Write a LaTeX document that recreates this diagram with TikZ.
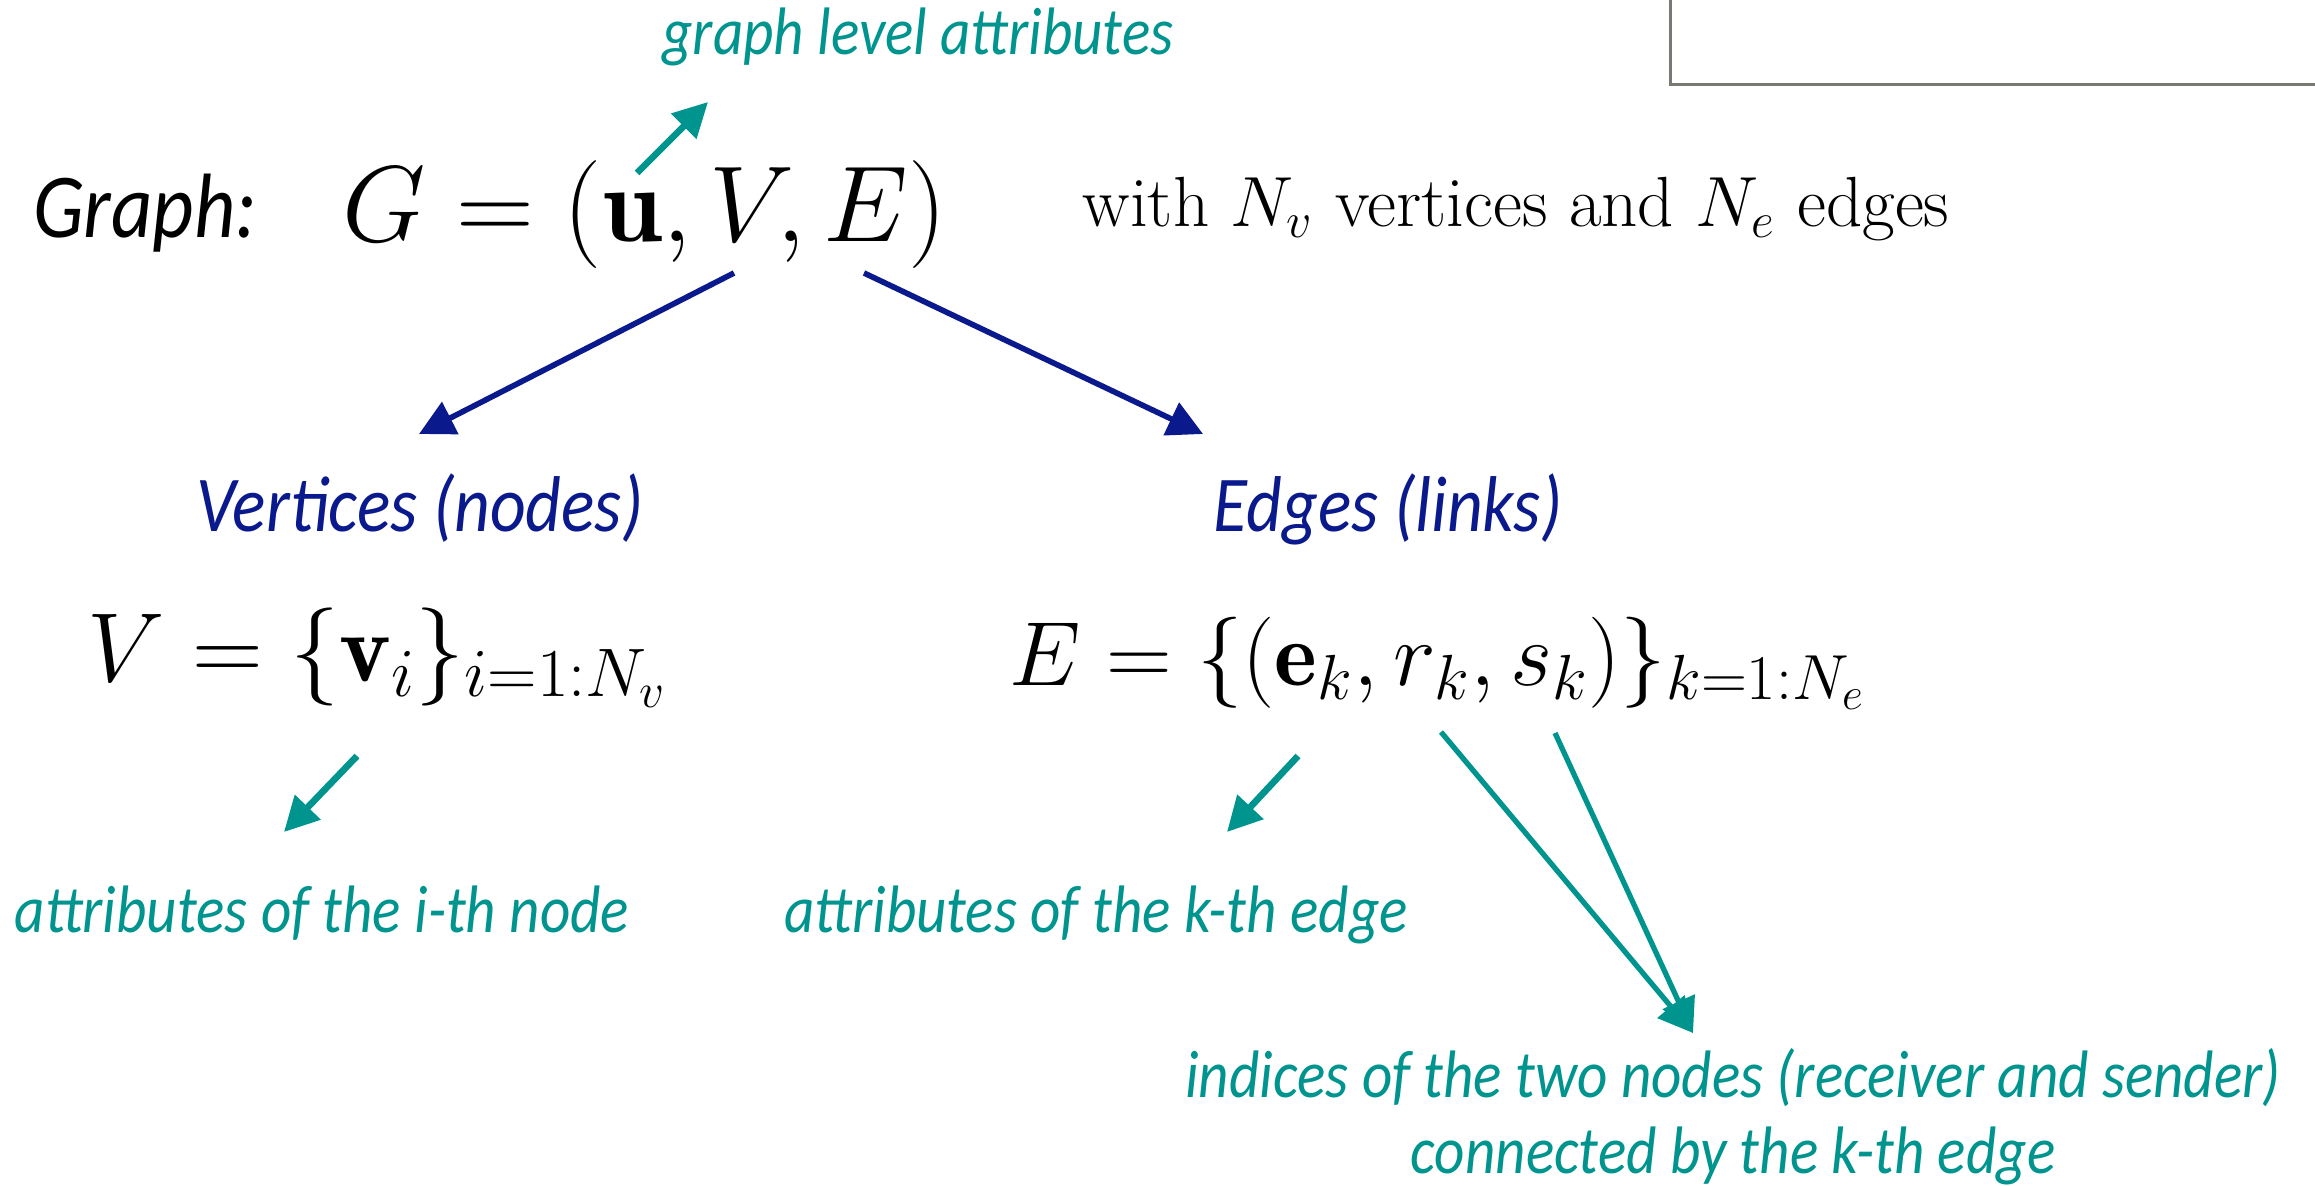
\RequirePackage{fix-cm}
\documentclass[tikz,border=0pt]{standalone}
\usepackage{fontspec}
\newfontfamily\labelfont[FakeStretch=0.88]{Carlito}
\usetikzlibrary{arrows.meta, positioning, calc}
\definecolor{AccentNavy}{HTML}{0A1A8C}
\definecolor{AccentTeal}{HTML}{00948F}
\definecolor{FrameGray}{HTML}{7A7872}
\tikzset{
  mbox/.style={inner sep=0pt, anchor=base, text=black},
  hbox/.style={inner sep=0pt, anchor=base, text=black,
    font=\labelfont\itshape\fontsize{26}{31}\selectfont},
  nbox/.style={inner sep=0pt, anchor=base, text=AccentNavy,
    font=\labelfont\itshape\fontsize{22.5}{27}\selectfont},
  tbox/.style={inner sep=0pt, anchor=base, text=AccentTeal,
    font=\labelfont\itshape\fontsize{19.1}{23}\selectfont},
  flow/.style={-{Triangle[length=10pt, width=10pt]}, line width=1.6pt, draw=AccentNavy},
  flowt/.style={-{Triangle[length=9.8pt, width=9.8pt]}, line width=1.9pt, draw=AccentTeal},
  flowq/.style={-{Triangle[length=9.8pt, width=9.8pt]}, line width=1.5pt, draw=AccentTeal},
}
\begin{document}
\begin{tikzpicture}[x=0.01cm, y=-0.01cm]
  \useasboundingbox (0,0) rectangle (2315,1186);
  % frame of the neighbouring box, cut by the page
  \draw[FrameGray, line width=0.85pt] (1670,0) -- (1670,85) -- (2315,85);

  % graph definition
  \node[hbox] (gname) at (145,238) {Graph:};
  \node[mbox, font=\fontsize{30.7}{37}\selectfont] (gdef) at (645,242) {$G = (\mathbf{u}, V, E)$};
  \node[mbox, font=\fontsize{20.2}{24}\selectfont] (gsize) at (1516,227) {with $N_v$ vertices and $N_e$ edges};
  \node[tbox] (glevel) at (918,55) {graph level attributes};

  % vertices and edges
  \node[nbox] (vhead) at (420,532) {Vertices (nodes)};
  \node[nbox] (ehead) at (1388,532) {Edges (links)};
  \node[mbox, font=\fontsize{27.9}{33}\selectfont] (vset) at (378,682) {$V = \{\mathbf{v}_i\}_{i=1:N_v}$};
  \node[mbox, font=\fontsize{25.9}{31}\selectfont] (eset) at (1438,686) {$E = \{(\mathbf{e}_k, r_k, s_k)\}_{k=1:N_e}$};

  % attribute notes
  \node[tbox] (vattr) at (322,933) {attributes of the i-th node};
  \node[tbox] (eattr) at (1096,933) {attributes of the k-th edge};
  \node[tbox] (idx) at (1733,1097) {indices of the two nodes (receiver and sender)};
  \node[tbox] (idxb) at (1733,1173) {connected by the k-th edge};

  % arrow ends
  \coordinate (u-top) at (637,173);
  \coordinate (glevel-end) at (708,102);
  \coordinate (v-from) at (734,273);
  \coordinate (v-to) at (419,434);
  \coordinate (e-from) at (864,273);
  \coordinate (e-to) at (1203,434);
  \coordinate (vi-from) at (357,756);
  \coordinate (vi-to) at (284,832);
  \coordinate (ek-from) at (1298,756);
  \coordinate (ek-to) at (1227,832);
  \coordinate (rk-from) at (1441,732);
  \coordinate (sk-from) at (1555,733);
  \coordinate (idx-to) at (1693,1033);

  \draw[flowt] (u-top) -- (glevel-end);
  \draw[flow] (v-from) -- (v-to);
  \draw[flow] (e-from) -- (e-to);
  \draw[flowt] (vi-from) -- (vi-to);
  \draw[flowt] (ek-from) -- (ek-to);
  \draw[flowq] (rk-from) -- (idx-to);
  \draw[flowq] (sk-from) -- (idx-to);
\end{tikzpicture}
\end{document}
